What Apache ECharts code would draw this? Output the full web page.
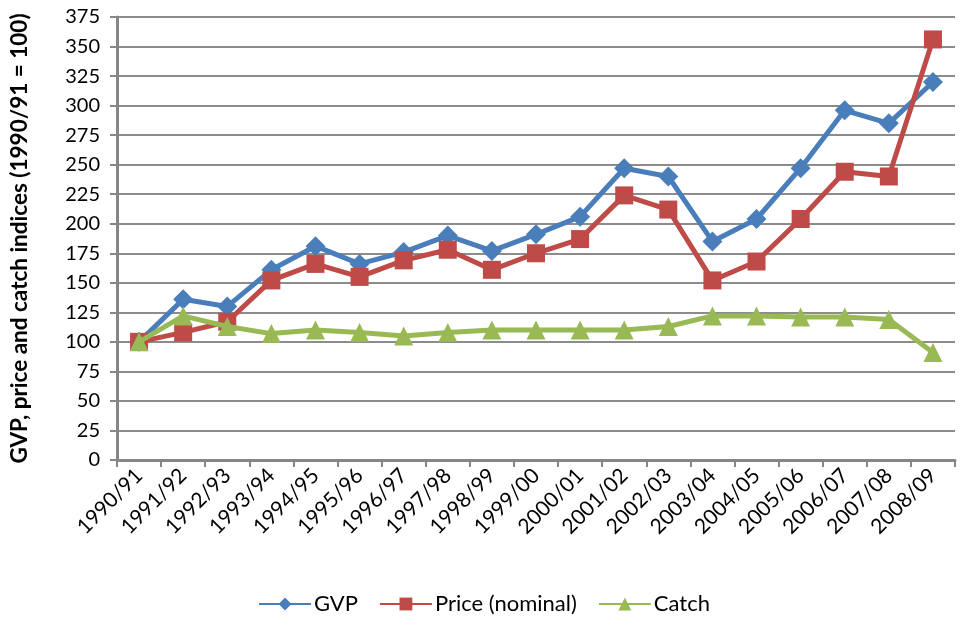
<!DOCTYPE html>
<html><head><meta charset="utf-8">
<script src="https://cdn.jsdelivr.net/npm/echarts@6/dist/echarts.min.js"></script>
<style>html,body{margin:0;padding:0;background:#fff}#c{width:968px;height:621px}</style>
</head><body><div id="c"></div>
<script>
const categories = ["1990/91","1991/92","1992/93","1993/94","1994/95","1995/96","1996/97","1997/98","1998/99","1999/00","2000/01","2001/02","2002/03","2003/04","2004/05","2005/06","2006/07","2007/08","2008/09"];
const gvp = [100,136,130,161,181,166,176,190,177,191,206,247,240,185,204,247,296,285,320];
const price = [100,108,117,152,166,155,169,178,161,175,187,224,212,152,168,204,244,240,356];
const catchIdx = [100,122,113,107,110,108,105,108,110,110,110,110,113,122,122,121,121,119,91];
const yTitle = "GVP, price and catch indices (1990/91 = 100)";
const FONT = "Lato, 'Open Sans', sans-serif";
const chart = echarts.init(document.getElementById('c'));
chart.setOption({
  animation: false,
  grid: {left: 117, right: 13, top: 17, bottom: 161},
  legend: {
    bottom: 1, left: 'center', itemWidth: 52, itemHeight: 16, itemGap: 21,
    textStyle: {fontFamily: FONT, fontSize: 22, color: '#000', padding: [0, 0, 0, -2]},
    data: ['GVP','Price (nominal)','Catch']
  },
  xAxis: {
    type: 'category', data: categories, boundaryGap: true,
    axisLine: {lineStyle: {color: '#868686', width: 3}},
    axisTick: {show: true, alignWithLabel: false, length: 7, lineStyle: {color: '#868686', width: 2}},
    axisLabel: {rotate: 45, fontFamily: FONT, fontSize: 21, color: '#000', margin: 12, interval: 0}
  },
  yAxis: {
    type: 'value', min: 0, max: 375, interval: 25,
    name: yTitle, nameLocation: 'middle', nameGap: 86,
    nameTextStyle: {fontFamily: FONT, fontSize: 22.5, fontWeight: 'bold', color: '#000'},
    axisLine: {show: true, lineStyle: {color: '#868686', width: 3}},
    axisTick: {show: true, length: 7, lineStyle: {color: '#868686', width: 2}},
    axisLabel: {fontFamily: FONT, fontSize: 20, color: '#000', margin: 17},
    splitLine: {lineStyle: {color: '#8c8c8c', width: 2}}
  },
  series: [
    {name: 'GVP', type: 'line', data: gvp, symbol: 'diamond', symbolSize: 20,
     lineStyle: {color: '#4a7ebb', width: 5}, itemStyle: {color: '#4a7ebb'}, z: 3},
    {name: 'Price (nominal)', type: 'line', data: price, symbol: 'rect', symbolSize: 18,
     lineStyle: {color: '#be4b48', width: 5}, itemStyle: {color: '#be4b48'}, z: 4},
    {name: 'Catch', type: 'line', data: catchIdx, symbol: 'triangle', symbolSize: 19,
     lineStyle: {color: '#98b954', width: 5}, itemStyle: {color: '#98b954'}, z: 5}
  ]
});
</script></body></html>
